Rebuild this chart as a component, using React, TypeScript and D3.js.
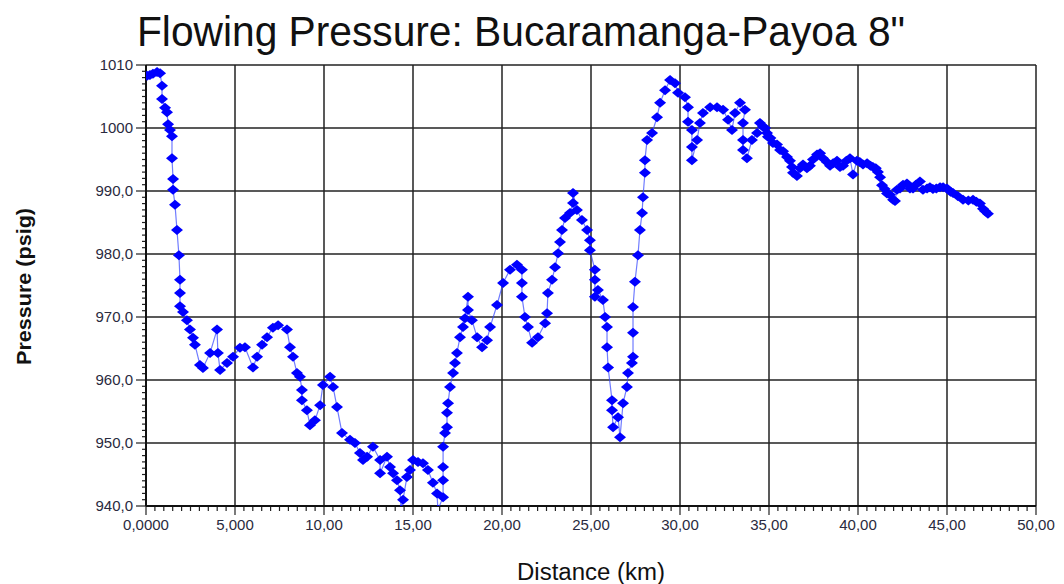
import React from "react";
import * as d3 from "d3";

const distanceKm = [
  0.06, 0.22, 0.39, 0.62, 0.79, 0.9, 0.9, 1.07, 1.18, 1.24, 1.35, 1.46, 1.46, 1.52, 1.52, 1.63, 1.74, 1.85, 1.91, 1.91,
  1.91, 2.08, 2.3, 2.47, 2.64, 2.75, 3.03, 3.2, 3.6, 3.99, 4.04, 4.16, 4.55, 4.89, 5.28, 5.56, 6.01, 6.24, 6.52, 6.8,
  7.13, 7.42, 7.92, 8.09, 8.26, 8.48, 8.65, 8.76, 8.76, 9.04, 9.21, 9.49, 9.78, 9.94, 10.34, 10.51, 10.73, 11.01, 11.46, 11.74,
  12.02, 12.19, 12.42, 12.75, 13.15, 13.15, 13.54, 13.71, 13.88, 14.1, 14.27, 14.33, 14.44, 14.66, 14.83, 15.0, 15.28, 15.56, 15.84, 16.12,
  16.35, 16.4, 16.69, 16.69, 16.69, 16.69, 16.8, 16.91, 16.91, 16.97, 17.08, 17.25, 17.36, 17.47, 17.64, 17.81, 17.92, 18.09, 18.09, 18.31,
  18.6, 18.88, 19.16, 19.33, 19.72, 20.06, 20.45, 20.84, 21.12, 21.12, 21.12, 21.29, 21.46, 21.69, 22.02, 22.42, 22.53, 22.58, 22.81, 22.98,
  23.15, 23.26, 23.37, 23.54, 23.82, 23.99, 23.99, 24.21, 24.49, 24.78, 24.94, 24.94, 25.22, 25.22, 25.22, 25.39, 25.67, 25.79, 25.9, 25.9,
  25.96, 26.18, 26.18, 26.24, 26.52, 26.63, 26.8, 27.02, 27.08, 27.3, 27.36, 27.36, 27.36, 27.47, 27.64, 27.75, 27.87, 27.92, 28.03, 28.03,
  28.15, 28.43, 28.71, 28.88, 29.16, 29.44, 29.72, 29.89, 30.28, 30.45, 30.45, 30.67, 30.67, 30.67, 30.96, 31.12, 31.29, 31.69, 32.08, 32.42,
  32.7, 32.92, 33.09, 33.37, 33.65, 33.54, 33.54, 33.54, 33.76, 34.04, 34.33,
  34.49, 34.66, 34.78, 34.89, 34.94, 35.08, 35.22, 35.45, 35.62, 35.79, 36.01, 36.18, 36.29, 36.35, 36.57, 36.74, 36.91, 37.13, 37.3, 37.47,
  37.7, 37.87, 38.03, 38.25, 38.43, 38.6, 38.82, 38.99, 39.16, 39.35, 39.55, 39.72, 39.94, 40.1, 40.28, 40.51, 40.7, 40.84, 41.0, 41.12,
  41.24, 41.35, 41.5, 41.63, 41.8, 41.97, 42.08, 42.19, 42.36, 42.53, 42.75, 42.92, 43.09, 43.25, 43.48, 43.65, 43.88, 44.04, 44.21, 44.4,
  44.61, 44.78, 45.0, 45.2, 45.34, 45.6, 45.9, 46.2, 46.46, 46.65, 46.85, 47.02, 47.15, 47.3
];

const pressurePsig = [
  1008.3, 1008.4, 1008.6, 1008.9, 1008.7, 1006.7, 1004.6, 1003.2, 1002.5, 1000.6, 999.7, 998.7, 995.2, 991.9, 990.2, 987.8, 983.8, 979.8, 975.9, 973.8,
  971.7, 970.8, 969.5, 968.0, 966.7, 965.6, 962.4, 961.9, 964.3, 968.0, 964.3, 961.6, 962.7, 963.7, 965.1, 965.2, 962.0, 963.7, 965.6, 966.8,
  968.3, 968.7, 968.0, 965.2, 963.7, 961.1, 960.5, 958.4, 956.8, 955.2, 952.8, 953.6, 956.0, 959.2, 960.5, 958.9, 955.7, 951.6, 950.5, 950.0,
  948.4, 947.3, 947.8, 949.4, 947.3, 945.2, 947.8, 946.2, 945.2, 944.1, 942.5, 939.4, 941.0, 944.6, 945.7, 947.3, 947.0, 946.8, 945.7, 943.7,
  942.0, 939.4, 941.4, 944.1, 946.2, 949.4, 951.6, 952.5, 954.8, 956.3, 958.9, 961.1, 962.7, 964.3, 966.8, 968.4, 969.8, 973.2, 971.1, 969.5,
  966.8, 965.2, 966.3, 968.4, 971.9, 975.4, 977.5, 978.3, 977.5, 975.4, 973.2, 970.0, 968.4, 965.9, 966.8, 969.0, 970.6, 973.8, 975.9, 977.9,
  980.1, 981.9, 983.8, 985.7, 986.5, 988.1, 989.7, 987.0, 985.4, 983.8, 982.2, 980.6, 977.5, 975.9, 973.2, 974.3, 972.7, 970.0, 968.4, 965.2,
  962.0, 956.8, 955.2, 952.5, 954.1, 950.9, 956.3, 958.9, 961.1, 962.7, 963.7, 967.5, 971.6, 975.6, 979.8, 983.8, 986.5, 989.0, 992.9, 994.9,
  998.1, 999.2, 1001.7, 1004.0, 1006.0, 1007.6, 1007.1, 1005.6, 1004.9, 1003.3, 1001.0, 999.7, 997.0, 994.9, 998.1, 1000.8, 1002.4, 1003.3, 1003.3, 1002.9,
  1001.3, 999.7, 1002.4, 1004.0, 1002.9, 1000.8, 998.1, 996.5, 995.2, 998.1, 999.2,
  1000.8, 1000.2, 1000.0, 999.2, 998.6, 998.4, 997.6, 997.4, 996.5, 996.3, 995.4, 994.8, 993.8, 992.9, 992.4, 993.6, 994.2, 993.6, 994.0, 995.0,
  995.8, 996.0, 995.2, 994.6, 994.0, 994.4, 994.8, 993.8, 994.0, 994.8, 995.2, 992.6, 994.8, 994.6, 994.2, 994.4, 994.0, 993.8, 993.6, 993.0,
  992.2, 990.9, 990.3, 989.6, 989.4, 988.6, 988.4, 990.2, 990.4, 991.0, 991.2, 990.4, 990.4, 991.0, 991.5, 990.2, 990.4, 990.6, 990.3, 990.4,
  990.6, 990.6, 990.4, 989.9, 989.7, 989.2, 988.6, 988.5, 988.6, 988.3, 988.0, 987.2, 986.8, 986.4
];

const yTickValues = [940, 950, 960, 970, 980, 990, 1000, 1010];
const yTickLabels = ["940,0", "950,0", "960,0", "970,0", "980,0", "990,0", "1000", "1010"];
const xTickValues = [0, 5, 10, 15, 20, 25, 30, 35, 40, 45, 50];
const xTickLabels = ["0,0000", "5,000", "10,00", "15,00", "20,00", "25,00", "30,00", "35,00", "40,00", "45,00", "50,00"];

const W = 1064;
const H = 584;
const L = 146, R = 1036, T = 65, B = 506;

export default function App() {
  const x = d3.scaleLinear().domain([0, 50]).range([L, R]);
  const y = d3.scaleLinear().domain([940, 1010]).range([B, T]);
  const pts = distanceKm.map((d, i) => [d, pressurePsig[i]] as [number, number]);
  const line = d3.line<[number, number]>().x(d => x(d[0])).y(d => y(d[1]))(pts) || "";
  const diamond = "M0,-5L6,0L0,5L-6,0Z";
  const minorY = d3.range(940, 1010.01, 1);
  const minorX = d3.range(0, 50.01, 0.5);
  const font = "'Liberation Sans', Arial, sans-serif";

  return (
    <svg width={W} height={H} style={{ position: "absolute", left: 0, top: 0, background: "#fff" }} fontFamily={font}>
      <defs>
        <clipPath id="plotclip">
          <rect x={L} y={T} width={R - L} height={B - T} />
        </clipPath>
      </defs>
      <text x={137} y={46} fontSize={42} fill="#111" textLength={768} lengthAdjust="spacingAndGlyphs">Flowing Pressure: Bucaramanga-Payoa 8"</text>
      {/* grid */}
      {yTickValues.map(v => (
        <line key={"gy" + v} x1={L} x2={R} y1={y(v)} y2={y(v)} stroke="#222" strokeWidth={1.5} />
      ))}
      {xTickValues.map(v => (
        <line key={"gx" + v} x1={x(v)} x2={x(v)} y1={T} y2={B} stroke="#222" strokeWidth={1.5} />
      ))}
      {/* minor ticks */}
      {minorY.map(v => (
        <line key={"my" + v} x1={L - (v % 10 === 0 ? 10 : 4)} x2={L} y1={y(v)} y2={y(v)} stroke="#222" strokeWidth={1.2} />
      ))}
      {minorX.map(v => (
        <line key={"mx" + v} x1={x(v)} x2={x(v)} y1={B} y2={B + (v % 5 === 0 ? 9 : 5)} stroke="#222" strokeWidth={1.2} />
      ))}
      <line x1={L} x2={L} y1={T} y2={B} stroke="#111" strokeWidth={2} />
      <line x1={L} x2={R} y1={B} y2={B} stroke="#111" strokeWidth={2} />
      {/* tick labels */}
      {yTickValues.map((v, i) => (
        <text key={"ty" + v} x={L - 13} y={y(v) + 5} fontSize={15} textAnchor="end" fill="#2a2a40">{yTickLabels[i]}</text>
      ))}
      {xTickValues.map((v, i) => (
        <text key={"tx" + v} x={x(v)} y={B + 24} fontSize={15} textAnchor="middle" fill="#2a2a40">{xTickLabels[i]}</text>
      ))}
      {/* data */}
      <g clipPath="url(#plotclip)">
        <path d={line} fill="none" stroke="#3344ff" strokeWidth={1.2} strokeOpacity={0.7} />
        {pts.map((p, i) => (
          <path key={"p" + i} d={diamond} transform={`translate(${x(p[0])},${y(p[1])})`} fill="#0000ff" />
        ))}
      </g>
      {/* axis titles */}
      <text x={591} y={580} fontSize={23} textAnchor="middle" fill="#111" textLength={148} lengthAdjust="spacingAndGlyphs">Distance (km)</text>
      <text transform={`translate(31,286.5) rotate(-90)`} fontSize={21} fontWeight="bold" textAnchor="middle" fill="#111" textLength={157} lengthAdjust="spacingAndGlyphs">Pressure (psig)</text>
    </svg>
  );
}
